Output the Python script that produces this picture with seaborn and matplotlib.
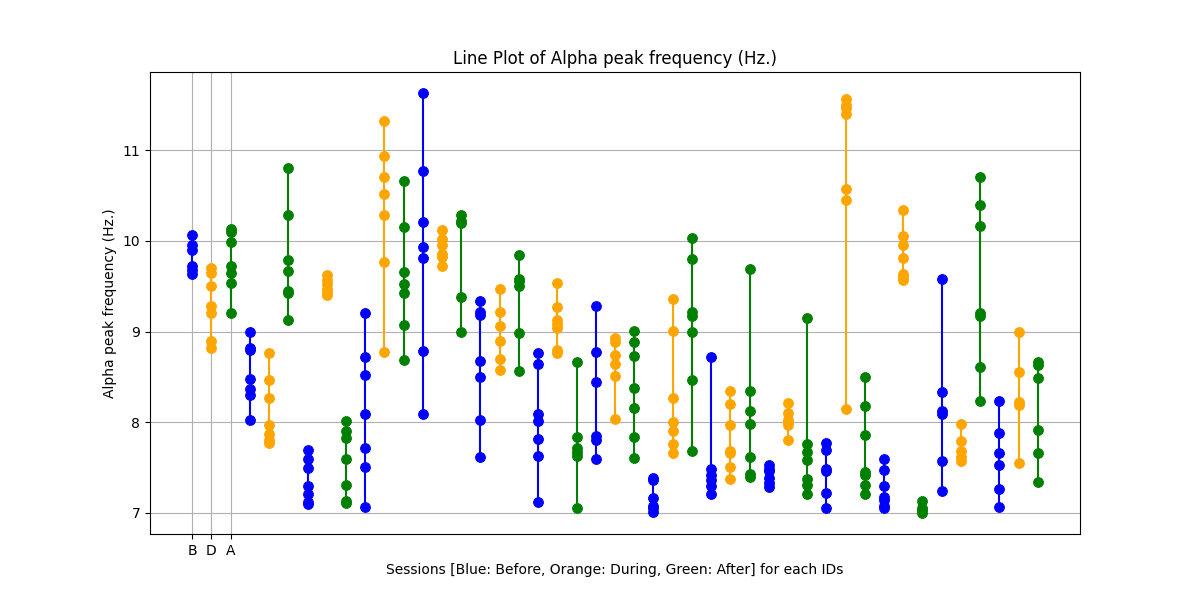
import matplotlib
matplotlib.use("Agg")
import matplotlib.pyplot as plt
import seaborn as sns
import pandas as pd

sessions = ["B", "D", "A"]
colors = {"B": "blue", "D": "orange", "A": "green"}

values = [
    [10.07, 9.95, 9.9, 9.72, 9.68, 9.63],
    [9.7, 9.65, 9.5, 9.28, 9.2, 8.9, 8.82],
    [10.13, 10.1, 9.99, 9.72, 9.65, 9.54, 9.2],
    [9.0, 8.82, 8.8, 8.48, 8.37, 8.3, 8.03],
    [8.76, 8.47, 8.27, 7.97, 7.87, 7.8, 7.77],
    [10.8, 10.28, 9.79, 9.67, 9.45, 9.42, 9.13],
    [7.69, 7.59, 7.5, 7.3, 7.21, 7.12, 7.1],
    [9.62, 9.57, 9.52, 9.47, 9.42, 9.4],
    [8.01, 7.9, 7.83, 7.6, 7.31, 7.13, 7.11],
    [9.21, 8.72, 8.52, 8.09, 7.72, 7.51, 7.07],
    [11.32, 10.93, 10.7, 10.52, 10.28, 9.77, 8.78],
    [10.66, 10.15, 9.66, 9.52, 9.42, 9.07, 8.69],
    [11.63, 10.77, 10.21, 9.93, 9.81, 8.79, 8.09],
    [10.12, 10.02, 9.95, 9.86, 9.82, 9.72],
    [10.28, 10.22, 10.2, 9.38, 9.0],
    [9.34, 9.22, 9.18, 8.68, 8.5, 8.03, 7.62],
    [9.47, 9.22, 9.06, 8.9, 8.7, 8.58],
    [9.84, 9.58, 9.56, 9.5, 8.98, 8.57],
    [8.76, 8.64, 8.09, 8.01, 7.82, 7.63, 7.12],
    [9.53, 9.27, 9.13, 9.08, 9.04, 8.8, 8.76],
    [8.66, 7.84, 7.72, 7.67, 7.63, 7.06],
    [9.28, 8.78, 8.44, 7.85, 7.8, 7.59],
    [8.93, 8.89, 8.74, 8.64, 8.51, 8.04],
    [9.01, 8.88, 8.73, 8.38, 8.16, 7.84, 7.61],
    [7.39, 7.36, 7.17, 7.08, 7.05, 7.01],
    [9.36, 9.01, 8.27, 8.0, 7.9, 7.76, 7.66],
    [10.03, 9.8, 9.22, 9.17, 9.0, 8.47, 7.68],
    [8.72, 7.49, 7.42, 7.36, 7.3, 7.21],
    [8.34, 8.2, 7.97, 7.68, 7.66, 7.51, 7.37],
    [9.69, 8.34, 8.12, 7.98, 7.62, 7.43, 7.4],
    [7.53, 7.49, 7.46, 7.39, 7.33, 7.29],
    [8.21, 8.1, 8.03, 8.0, 7.97, 7.8],
    [9.15, 7.76, 7.67, 7.58, 7.37, 7.31, 7.21],
    [7.77, 7.7, 7.49, 7.46, 7.22, 7.05],
    [11.56, 11.5, 11.46, 11.4, 10.57, 10.45, 8.15],
    [8.5, 8.18, 7.86, 7.45, 7.42, 7.31, 7.21],
    [7.59, 7.47, 7.3, 7.18, 7.14, 7.08, 7.05],
    [10.34, 10.05, 9.95, 9.81, 9.64, 9.6, 9.57],
    [7.13, 7.06, 7.03, 7.0],
    [9.58, 8.33, 8.12, 8.09, 7.57, 7.24],
    [7.98, 7.79, 7.68, 7.62, 7.57],
    [10.7, 10.4, 10.16, 9.2, 9.17, 8.61, 8.24],
    [8.24, 7.88, 7.66, 7.53, 7.27, 7.07],
    [9.0, 8.55, 8.22, 8.19, 7.55],
    [8.66, 8.63, 8.49, 7.92, 7.66, 7.34],
]

rows = []
for i, col in enumerate(values):
    s = sessions[i % 3]
    for v in col:
        rows.append({"pos": i, "session": s, "value": v})
df = pd.DataFrame(rows)

fig, ax = plt.subplots(figsize=(12, 6), dpi=100)
for i in range(len(values)):
    sub = df[df["pos"] == i]
    c = colors[sessions[i % 3]]
    sns.lineplot(data=sub, x="pos", y="value", estimator=None, sort=False,
                 color=c, marker="o", markersize=7, markeredgecolor=c,
                 linewidth=1.5, ax=ax)

ax.set_xticks([0, 1, 2])
ax.set_xticklabels(sessions)
ax.set_yticks([7, 8, 9, 10, 11])
ax.grid(True)
ax.set_title("Line Plot of Alpha peak frequency (Hz.)")
ax.set_xlabel("Sessions [Blue: Before, Orange: During, Green: After] for each IDs")
ax.set_ylabel("Alpha peak frequency (Hz.)")
fig.savefig("out.png", dpi=100)
